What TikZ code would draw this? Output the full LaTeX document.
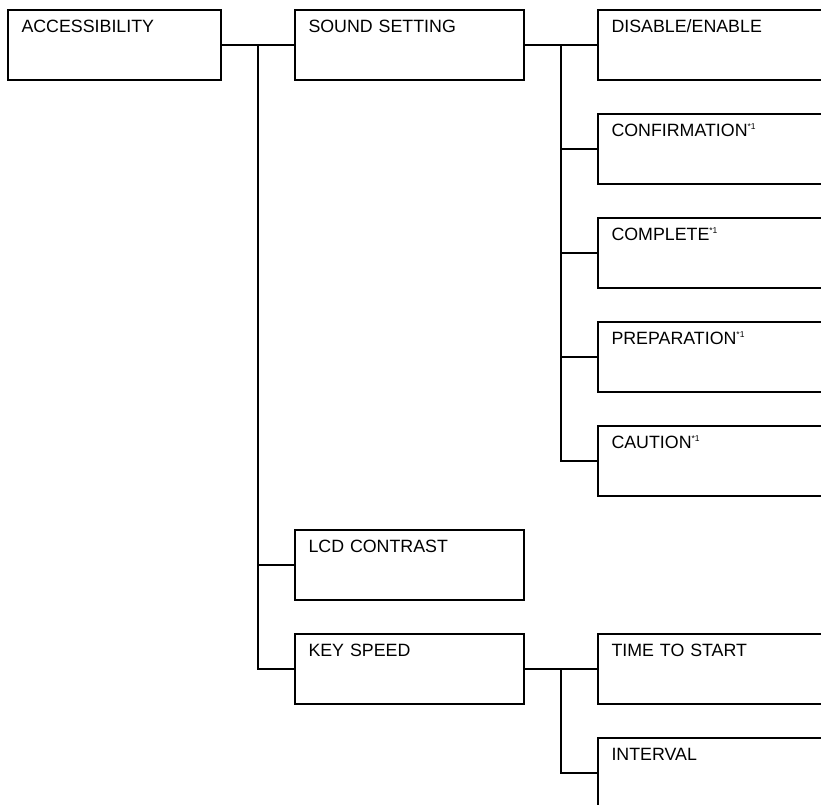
\documentclass[tikz,border=0pt]{standalone}
\usepackage{fontspec}
\setmainfont{Liberation Sans}
\usetikzlibrary{positioning}
\newcommand{\fnmark}{\raisebox{6.6pt}{\fontsize{8.5}{8.5}\selectfont *1}}

\begin{document}
\begin{tikzpicture}[x=1pt, y=-1pt, node distance=34pt and 74pt, line width=1.8pt,
    menu/.style={draw, rectangle, outer sep=0pt, text width=202pt, align=left, inner xsep=13.5pt, inner ysep=9pt,
        text height=13pt, text depth=39pt, font=\fontsize{17.8}{20}\selectfont}]
        \useasboundingbox (0,0) rectangle (821,804);
        \clip (0,0) rectangle (821,804);

        % Nodes
        \node (access) [menu, text width=186pt, anchor=north west] at (8,10) {ACCESSIBILITY};
        \node (sound) [menu, right=of access] {SOUND SETTING};
        \node (disable) [menu, right=of sound] {DISABLE/ENABLE};
        \node (confirm) [menu, below=of disable] {CONFIRMATION\fnmark};
        \node (complete) [menu, below=of confirm] {COMPLETE\fnmark};
        \node (prepare) [menu, below=of complete] {PREPARATION\fnmark};
        \node (caution) [menu, below=of prepare] {CAUTION\fnmark};
        \node (lcd) [menu, below=450pt of sound] {LCD CONTRAST};
        \node (key) [menu, below=of lcd] {KEY SPEED};
        \node (start) [menu, right=of key] {TIME TO START};
        \node (interval) [menu, below=of start] {INTERVAL};

        % Edges
        \draw (access) -- coordinate (fork1) (sound);
        \draw (sound) -- coordinate (fork2) (disable);
        \draw (key) -- coordinate (fork3) (start);
        \draw (fork1) |- (lcd.west);
        \draw (fork1) |- (key.west);
        \foreach \n in {confirm, complete, prepare, caution}
            \draw (fork2) |- (\n.west);
        \draw (fork3) |- (interval.west);
    \end{tikzpicture}
\end{document}
